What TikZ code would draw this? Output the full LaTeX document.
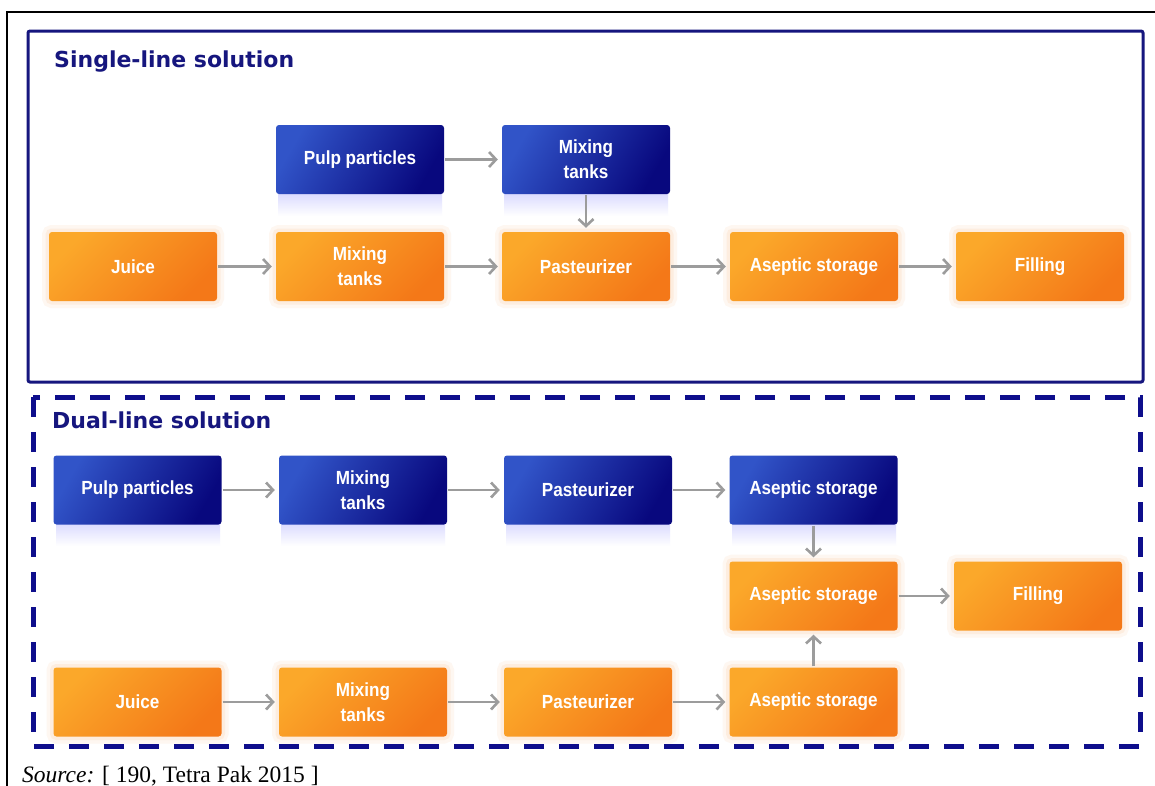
\documentclass[tikz,border=0pt]{standalone}
\usepackage{fontspec}
\setmainfont{Liberation Serif}
\newfontfamily\boxfont[FakeStretch=0.9]{Liberation Sans}
\newfontfamily\titlefont{DejaVu Sans}
\usetikzlibrary{arrows.meta}
\definecolor{navy}{HTML}{16167E}
\definecolor{dashnavy}{HTML}{0E0E8C}
\definecolor{orL}{HTML}{FBA82A}
\definecolor{orD}{HTML}{F47818}
\definecolor{blL}{HTML}{3154C8}
\definecolor{blD}{HTML}{08087E}
\definecolor{arrowgrey}{HTML}{9C9C9C}
\tikzset{
  procbox/.style={rounded corners=3pt, minimum width=168pt, minimum height=69pt, inner sep=0pt,
    align=center, text=white, font=\boxfont\bfseries\fontsize{19}{25}\selectfont},
  orangebox/.style={procbox, top color=orL, bottom color=orD, shading angle=45,
    preaction={draw=orD, draw opacity=0.06, line width=14pt},
    preaction={draw=orD, draw opacity=0.08, line width=7pt}},
  bluebox/.style={procbox, top color=blL, bottom color=blD, shading angle=60},
  flow/.style={draw=arrowgrey, line width=2.6pt, -{Straight Barb[length=7pt,width=15pt,line width=2.6pt]}, shorten >=4pt, shorten <=1pt},
  title/.style={anchor=base west, text=navy, font=\titlefont\bfseries\fontsize{22}{26}\selectfont, inner sep=0pt},
}
\begin{document}
\begin{tikzpicture}[x=1pt,y=-1pt]
\useasboundingbox (0,0) rectangle (1155,785);
\fill[white] (0,0) rectangle (1155,785);
% outer frame
\draw[black, line width=2.2pt] (7,800) -- (7,12) -- (1170,12);
% panels
\draw[navy, line width=3pt, rounded corners=2pt] (28,31) rectangle (1143,382);
\draw[dashnavy, line width=5pt, dash pattern=on 20pt off 15pt] (33,397) rectangle (1140,746);
% titles
\node[title] (t1) at (54,67) {Single-line solution};
\node[title] (t2) at (52,428) {Dual-line solution};
% reflections under blue boxes
\foreach \x/\y in {276/194, 502/194, 54/524, 279/524, 504/524, 730/524}{
  \shade[top color=blue!14, bottom color=white] (\x+2,\y) rectangle (\x+166,\y+22);
}
% single-line
\node[bluebox] (pulp1) at (360,159.5) {Pulp particles};
\node[bluebox] (mixb1) at (586,159.5) {Mixing\\tanks};
\node[orangebox] (juice1) at (133,266.5) {Juice};
\node[orangebox] (mixo1) at (360,266.5) {Mixing\\tanks};
\node[orangebox] (past1) at (586,266.5) {Pasteurizer};
\node[orangebox] (asep1) at (814,266.5) {Aseptic storage};
\node[orangebox] (fill1) at (1040,266.5) {Filling};
\draw[flow] (pulp1) -- (mixb1);
\draw[flow] (mixb1) -- (past1);
\draw[flow] (juice1) -- (mixo1);
\draw[flow] (mixo1) -- (past1);
\draw[flow] (past1) -- (asep1);
\draw[flow] (asep1) -- (fill1);
% dual-line
\node[bluebox] (pulp2) at (137.5,490) {Pulp particles};
\node[bluebox] (mixb2) at (363,490) {Mixing\\tanks};
\node[bluebox] (pastb2) at (588,490) {Pasteurizer};
\node[bluebox] (asepb2) at (813.5,490) {Aseptic storage};
\node[orangebox] (asepm2) at (813.5,596) {Aseptic storage};
\node[orangebox] (fill2) at (1038,596) {Filling};
\node[orangebox] (juice2) at (137.5,702) {Juice};
\node[orangebox] (mixo2) at (363,702) {Mixing\\tanks};
\node[orangebox] (pasto2) at (588,702) {Pasteurizer};
\node[orangebox] (asepo2) at (813.5,702) {Aseptic storage};
\draw[flow] (pulp2) -- (mixb2);
\draw[flow] (mixb2) -- (pastb2);
\draw[flow] (pastb2) -- (asepb2);
\draw[flow] (asepb2) -- (asepm2);
\draw[flow] (asepo2) -- (asepm2);
\draw[flow] (asepm2) -- (fill2);
\draw[flow] (juice2) -- (mixo2);
\draw[flow] (mixo2) -- (pasto2);
\draw[flow] (pasto2) -- (asepo2);
% source
\node[anchor=base west, inner sep=0pt, font=\fontsize{23.5}{28}\selectfont] (src) at (22,782) {\textit{Source:} [ 190, Tetra Pak 2015 ]};
\end{tikzpicture}
\end{document}
